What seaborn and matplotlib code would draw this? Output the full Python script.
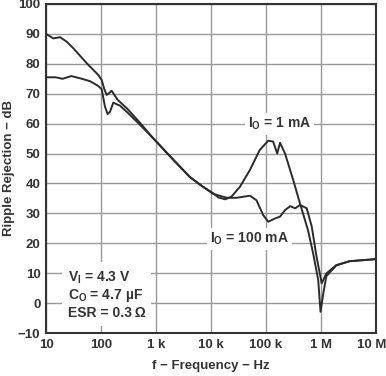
import numpy as np
import pandas as pd
import seaborn as sns
import matplotlib.pyplot as plt
import matplotlib.transforms as mtransforms

# Ripple rejection curves
freq_1ma = [10, 13.6, 18, 23.8, 31.4, 55, 89, 103, 115, 127, 140, 156, 200, 300, 500, 890,
            2000, 4100, 7000, 11000, 13700, 18200, 23600, 33600, 51000, 77000, 110000,
            135000, 160000, 180000, 222000, 313000, 415000, 580000, 720000, 890000,
            980000, 1100000, 1250000, 1900000, 3300000, 10000000]
rr_1ma = [90, 88.5, 88.9, 87.4, 85.2, 80.2, 76.3, 74.6, 71.5, 69.6, 70.2, 71, 68, 65, 60.5, 55.1,
          48.2, 42.2, 39, 36.7, 35.3, 34.7, 35.6, 38.9, 44.5, 51.2, 54.3,
          54, 50, 53.6, 50, 41.1, 33.3, 24.4, 16.6, 7.7,
          -2.9, 3.2, 9, 12.6, 14, 14.7]

freq_100ma = [10, 15, 20, 29, 45, 63, 89, 103, 118, 132, 146, 167, 222, 300, 500, 890,
              2000, 4100, 7000, 11000, 19400, 29000, 51000, 67000, 89000, 110000, 146000,
              180000, 222000, 275000, 340000, 415000, 550000, 680000, 830000, 1030000,
              1250000, 1900000, 3300000, 10000000]
rr_100ma = [75.5, 75.5, 75, 75.9, 75, 74.2, 72.6, 71.5, 65.7, 63.2, 64, 67, 66, 63.8, 59.8, 55.1,
            48.2, 42.2, 39, 36.5, 35.2, 35.2, 35.9, 34.4, 29.4, 27.2, 28.3,
            28.9, 31.1, 32.4, 31.7, 32.8, 31.7, 25.5, 15.5, 6.6,
            9.9, 12.7, 14, 14.7]

df = pd.concat([
    pd.DataFrame({"freq": freq_1ma, "rr": rr_1ma, "load": "1 mA"}),
    pd.DataFrame({"freq": freq_100ma, "rr": rr_100ma, "load": "100 mA"}),
])

sns.set_style("white")
plt.rcParams['font.family'] = ['Liberation Sans', 'DejaVu Sans']

fig = plt.figure(figsize=(3.86, 3.76), dpi=100)
ax = fig.add_axes([46 / 386, 43 / 376, 330 / 386, 329 / 376])

sns.lineplot(data=df, x="freq", y="rr", hue="load", estimator=None, sort=True,
             palette={"1 mA": "#2b2b2b", "100 mA": "#2b2b2b"}, linewidth=1.4,
             legend=False, ax=ax, zorder=3)

ax.set_xscale("log")
ax.set_xlim(10, 1e7)
ax.set_ylim(-10, 100)
ax.set_xticks([1e1, 1e2, 1e3, 1e4, 1e5, 1e6, 1e7])
ax.set_xticklabels(["10", "100", "1 k", "10 k", "100 k", "1 M", "10 M"])
ax.set_yticks(np.arange(-10, 101, 10))
ax.set_yticklabels(["\u221210"] + [str(v) for v in range(0, 101, 10)])
ax.xaxis.set_minor_locator(plt.NullLocator())

ax.grid(True, which="major", color="#999999", linewidth=1.0, zorder=1)
ax.set_axisbelow(True)
for spine in ax.spines.values():
    spine.set_visible(True)
    spine.set_color("#333333")
    spine.set_linewidth(1.5)
ax.tick_params(axis="both", length=0, pad=4, labelsize=9.5, colors="#333333")
for lab in ax.get_xticklabels() + ax.get_yticklabels():
    lab.set_fontweight("bold")

# keep the last frequency label inside the figure
last = ax.get_xticklabels()[-1]
last.set_transform(last.get_transform() +
                   mtransforms.ScaledTranslation(-3 / 72, 0, fig.dpi_scale_trans))

ax.set_xlabel("f \u2212 Frequency \u2212 Hz", fontsize=9.5, fontweight="bold",
              color="#333333", labelpad=7)
ax.set_ylabel("Ripple Rejection \u2212 dB", fontsize=9.5, fontweight="bold",
              color="#333333", labelpad=2)

box = dict(facecolor="white", edgecolor="none", pad=2)
ax.text(1.75e5, 60, r"I$_\mathregular{O}$ = 1 mA", fontsize=10, fontweight="bold",
        color="#333333", ha="center", va="center", bbox=box, zorder=4)
ax.text(5e4, 21.5, r"I$_\mathregular{O}$ = 100 mA", fontsize=10, fontweight="bold",
        color="#333333", ha="center", va="center", bbox=box, zorder=4)
ax.text(25, 2.8, "V$_\\mathregular{I}$ = 4.3 V\nC$_\\mathregular{O}$ = 4.7 \u00b5F\nESR = 0.3\u2009\u03a9",
        fontsize=10, fontweight="bold", color="#333333", ha="left", va="center",
        linespacing=1.15, bbox=dict(facecolor="white", edgecolor="none", pad=4), zorder=4)

fig.savefig("out.png", dpi=100)
